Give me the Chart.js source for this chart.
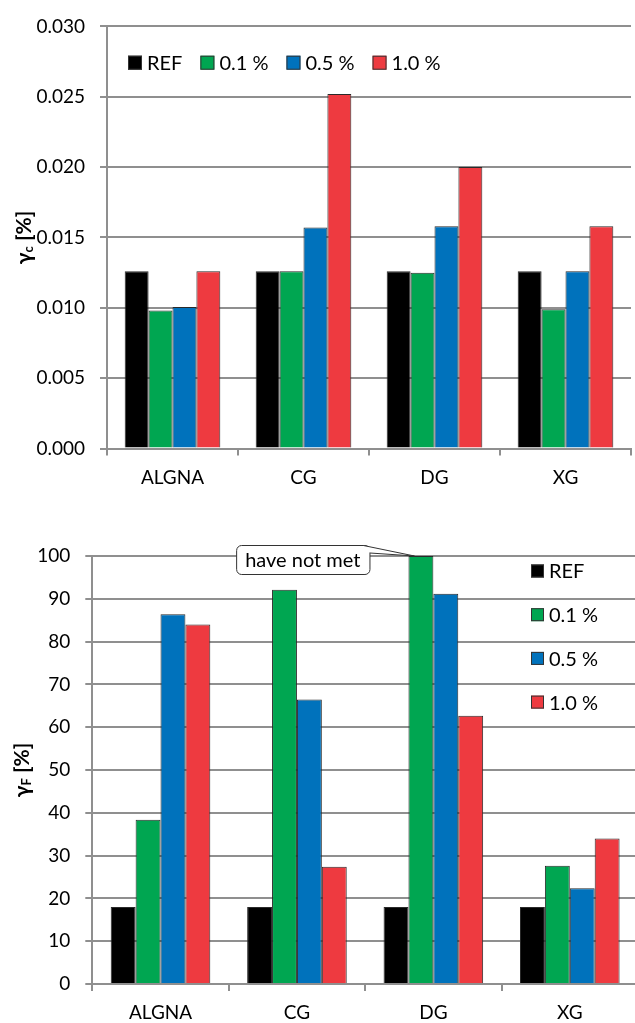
<!DOCTYPE html>
<html>
<head>
<meta charset="utf-8">
<script src="https://cdn.jsdelivr.net/npm/chart.js@4"></script>
<style>
  body { margin: 0; background: #fff; overflow: hidden; }
  #wrap { position: relative; width: 635px; height: 1023px; overflow: hidden; }
  canvas { position: absolute; left: 0; }
</style>
</head>
<body>
<div id="wrap">
  <canvas id="chartC" width="635" height="505" style="top:0"></canvas>
  <canvas id="chartF" width="645" height="518" style="top:505px"></canvas>
</div>
<script>
const categories = ['ALGNA', 'CG', 'DG', 'XG'];
const seriesLabels = ['REF', '0.1 %', '0.5 %', '1.0 %'];
const seriesColors = ['#000000', '#00a651', '#0072bc', '#ee3a40'];

// gamma_c [%]
const gammaC_ref = [0.0126, 0.0126, 0.0126, 0.0126];
const gammaC_01 = [0.0098, 0.0126, 0.0125, 0.0099];
const gammaC_05 = [0.01005, 0.0157, 0.0158, 0.0126];
const gammaC_10 = [0.0126, 0.0252, 0.0200, 0.0158];

// gamma_F [%]
const gammaF_ref = [18, 18, 18, 18];
const gammaF_01 = [38.4, 92.1, 100, 27.6];
const gammaF_05 = [86.4, 66.5, 91.2, 22.4];
const gammaF_10 = [84.0, 27.4, 62.7, 34.0];

const noteText = 'have not met';

const FONT = 'Lato, "Open Sans", sans-serif';
const GRID = '#8f8f8f';

function makeDatasets(series) {
  return series.map((data, i) => ({
    label: seriesLabels[i],
    data,
    backgroundColor: seriesColors[i],
    borderColor: '#2a2a2a',
    borderWidth: 1,
    barPercentage: 1,
    categoryPercentage: 0.73
  }));
}

// y title with a subscript, drawn rotated
function yTitlePlugin(sub, x) {
  return {
    id: 'yTitle',
    afterDraw(chart) {
      const ctx = chart.ctx;
      const cy = (chart.chartArea.top + chart.chartArea.bottom) / 2;
      ctx.save();
      ctx.translate(x, cy);
      ctx.rotate(-Math.PI / 2);
      ctx.fillStyle = '#000';
      ctx.textBaseline = 'middle';
      const big = 'bold 21px ' + FONT, small = 'bold 13px ' + FONT;
      ctx.font = big;
      const w1 = ctx.measureText('γ').width;
      const w3 = ctx.measureText(' [%]').width;
      ctx.font = small;
      const w2 = ctx.measureText(sub).width;
      let px = -(w1 + w2 + w3) / 2;
      ctx.font = big;
      ctx.fillText('γ', px, 0);
      px += w1;
      ctx.font = small;
      ctx.fillText(sub, px, 5);
      px += w2;
      ctx.font = big;
      ctx.fillText(' [%]', px, 0);
      ctx.restore();
    }
  };
}

function legendPlugin(dx, dy, horizontal, step, box) {
  return {
    id: 'boxLegend',
    afterDraw(chart) {
      const ctx = chart.ctx;
      ctx.save();
      ctx.font = '20px ' + FONT;
      ctx.textBaseline = 'middle';
      let x = chart.chartArea.left + dx, y = chart.chartArea.top + dy;
      chart.data.datasets.forEach(ds => {
        ctx.fillStyle = ds.backgroundColor;
        ctx.fillRect(x, y - box / 2, box, box);
        ctx.strokeStyle = '#333';
        ctx.lineWidth = 1;
        ctx.strokeRect(x + 0.5, y - box / 2 + 0.5, box - 1, box - 1);
        ctx.fillStyle = '#000';
        ctx.fillText(ds.label, x + box + 5, y + 1);
        if (horizontal) {
          x += box + 5 + ctx.measureText(ds.label).width + 18;
        } else {
          y += step;
        }
      });
      ctx.restore();
    }
  };
}

const notePlugin = {
  id: 'note',
  afterDatasetsDraw(chart) {
    const bar = chart.getDatasetMeta(1).data[2];
    const tipX = bar.x - bar.width / 2 + 6, tipY = bar.y;
    const ctx = chart.ctx;
    ctx.save();
    ctx.font = '20px ' + FONT;
    const w = ctx.measureText(noteText).width + 18, h = 29;
    const right = tipX - 45, left = right - w, top = tipY - 11;
    ctx.beginPath();
    ctx.roundRect(left + 0.5, top + 0.5, w, h, 5);
    ctx.fillStyle = '#fff';
    ctx.fill();
    ctx.strokeStyle = '#333';
    ctx.lineWidth = 1;
    ctx.stroke();
    ctx.beginPath();
    ctx.moveTo(right - 6, top + 0.5);
    ctx.lineTo(tipX, tipY);
    ctx.lineTo(right + 0.5, top + 8);
    ctx.closePath();
    ctx.fillStyle = '#fff';
    ctx.fill();
    ctx.beginPath();
    ctx.moveTo(right - 6, top + 0.5);
    ctx.lineTo(tipX, tipY);
    ctx.lineTo(right + 0.5, top + 8);
    ctx.stroke();
    ctx.fillStyle = '#000';
    ctx.textAlign = 'center';
    ctx.textBaseline = 'middle';
    ctx.fillText(noteText, left + w / 2, top + h / 2 + 1);
    ctx.restore();
  }
};

function baseOptions(o) {
  return {
    responsive: false,
    animation: false,
    layout: { padding: { left: 0, top: o.top, right: o.right, bottom: 0 } },
    plugins: { legend: { display: false }, tooltip: { enabled: false } },
    scales: {
      x: {
        grid: { display: true, drawOnChartArea: false, drawTicks: true, tickLength: 7, color: GRID, lineWidth: 2 },
        border: { display: true, color: GRID, width: 2 },
        ticks: { color: '#000', font: { family: FONT, size: 19 }, padding: o.xPad },
        afterFit: s => { s.height = o.xHeight; }
      },
      y: {
        min: o.min, max: o.max,
        grid: { color: GRID, lineWidth: 2, tickLength: 7 },
        border: { display: true, color: GRID, width: 2 },
        ticks: { stepSize: o.step, color: '#000', font: { family: FONT, size: 19 }, padding: 15, callback: o.fmt },
        afterFit: s => { s.width = o.yWidth; }
      }
    }
  };
}

new Chart(document.getElementById('chartC'), {
  type: 'bar',
  data: { labels: categories, datasets: makeDatasets([gammaC_ref, gammaC_01, gammaC_05, gammaC_10]) },
  options: baseOptions({ top: 20.7, right: 4, xHeight: 56.5, xPad: 11, yWidth: 107, min: 0, max: 0.03, step: 0.005,
    fmt: v => Number(v).toFixed(3) }),
  plugins: [yTitlePlugin('c', 24), legendPlugin(21, 36.3, true, 0, 14)]
});

new Chart(document.getElementById('chartF'), {
  type: 'bar',
  data: { labels: categories, datasets: makeDatasets([gammaF_ref, gammaF_01, gammaF_05, gammaF_10]) },
  options: baseOptions({ top: 51, right: 7, xHeight: 39, xPad: 10.5, yWidth: 92.3, min: 0, max: 100, step: 10,
    fmt: v => String(v) }),
  plugins: [yTitlePlugin('F', 22), legendPlugin(438.7, 15, false, 43.7, 13), notePlugin]
});
</script>
</body>
</html>
